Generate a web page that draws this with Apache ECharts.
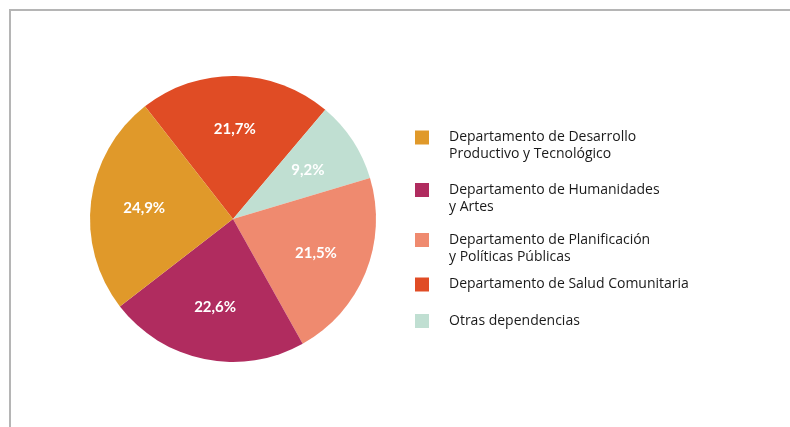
<!DOCTYPE html>
<html>
<head>
<meta charset="utf-8">
<script src="https://cdn.jsdelivr.net/npm/echarts@6/dist/echarts.min.js"></script>
<style>
  html, body { margin: 0; padding: 0; background: #fff; }
  #pie { width: 790px; height: 427px; }
</style>
</head>
<body>
<div id="pie"></div>
<script>
// data, in the order the slices run clockwise from the top-left edge
var names = [
  'Departamento de Salud Comunitaria',
  'Otras dependencias',
  'Departamento de Planificación y Políticas Públicas',
  'Departamento de Humanidades y Artes',
  'Departamento de Desarrollo Productivo y Tecnológico'
];
var values = [21.7, 9.2, 21.5, 22.6, 24.9];
var colors = ['#e04c25', '#c0dfd2', '#ef8a6f', '#b02c5f', '#e0992a'];

// legend order and the way each label wraps
var legendNames = [
  'Departamento de Desarrollo Productivo y Tecnológico',
  'Departamento de Humanidades y Artes',
  'Departamento de Planificación y Políticas Públicas',
  'Departamento de Salud Comunitaria',
  'Otras dependencias'
];
var legendLabels = [
  'Departamento de Desarrollo\nProductivo y Tecnológico',
  'Departamento de Humanidades\ny Artes',
  'Departamento de Planificación\ny Políticas Públicas',
  'Departamento de Salud Comunitaria',
  'Otras dependencias'
];

(function() {
  var myChart = echarts.init(document.getElementById('pie'));
  var lineH = 17;
  var iconCenters = [137.5, 190, 240, 284.5, 321];

  var pieData = names.map(function(n, i) {
    return { name: n, value: values[i], itemStyle: { color: colors[i] } };
  });

  var legends = legendNames.map(function(n, i) {
    var twoLines = legendLabels[i].indexOf('\n') >= 0;
    return {
      left: 415,
      top: iconCenters[i] - (twoLines ? lineH * 1.5 : lineH / 2),
      padding: 0,
      orient: 'vertical',
      icon: 'rect',
      itemWidth: 14,
      itemHeight: 14,
      selectedMode: false,
      data: [n],
      // a blank first line keeps the first text line level with the square
      formatter: function() { return (twoLines ? '\n' : '') + legendLabels[i]; },
      textStyle: {
        fontFamily: '"Open Sans", sans-serif',
        fontSize: 14,
        lineHeight: lineH,
        color: '#1a1a1a',
        padding: [0, 0, 0, 15]
      }
    };
  });

  var option = {
    animation: false,
    graphic: [
      { type: 'rect', shape: { x: 9, y: 9, width: 781, height: 2 }, style: { fill: '#b5b5b5' } },
      { type: 'rect', shape: { x: 9, y: 9, width: 2, height: 418 }, style: { fill: '#b5b5b5' } }
    ],
    legend: legends,
    series: [
      {
        name: 'slices',
        type: 'pie',
        center: [233, 219],
        radius: [0, 143],
        startAngle: 128,
        clockwise: true,
        label: { show: false },
        labelLine: { show: false },
        emphasis: { disabled: true },
        data: pieData
      },
      {
        // transparent copy, only to place the labels a bit further out
        name: 'labels',
        type: 'pie',
        silent: true,
        center: [233, 219],
        radius: [30, 143],
        startAngle: 128,
        clockwise: true,
        itemStyle: { color: 'rgba(0,0,0,0)' },
        emphasis: { disabled: true },
        label: {
          show: true,
          position: 'inside',
          color: '#fff',
          fontFamily: 'Lato, sans-serif',
          fontWeight: 'bold',
          fontSize: 15,
          formatter: function(p) {
            return p.value.toFixed(1).replace('.', ',') + '%';
          }
        },
        labelLine: { show: false },
        data: names.map(function(n, i) { return { name: n, value: values[i] }; })
      }
    ]
  };

  myChart.setOption(option);
})();
</script>
</body>
</html>
